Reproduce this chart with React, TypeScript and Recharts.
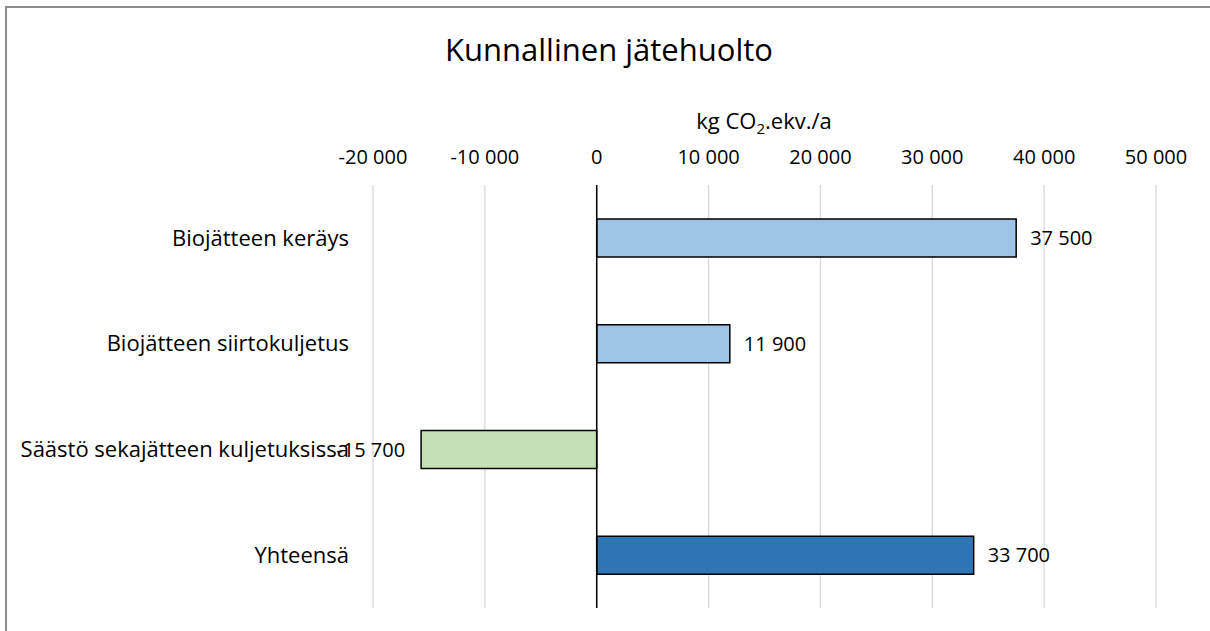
import { BarChart, Bar, XAxis, YAxis, CartesianGrid, Cell, LabelList, ReferenceLine } from "recharts";

const categories = [
  "Biojätteen keräys",
  "Biojätteen siirtokuljetus",
  "Säästö sekajätteen kuljetuksissa",
  "Yhteensä",
];
const values = [37500, 11900, -15700, 33700];
const barColors = ["#9DC3E6", "#9DC3E6", "#C5E0B4", "#2E75B6"];
const xTicks = [-20000, -10000, 0, 10000, 20000, 30000, 40000, 50000];

const FONT = "'Open Sans', Lato, sans-serif";

const data = categories.map((name, i) => ({ name, value: values[i] }));

// 12500 -> "12 500", -15700 -> "-15 700"
function fmt(v: number): string {
  const s = Math.abs(v).toString().replace(/\B(?=(\d{3})+(?!\d))/g, " ");
  return v < 0 ? "-" + s : s;
}

function TopTick(props: any) {
  const { x, payload } = props;
  return (
    <text x={x} y={164} textAnchor="middle" fill="#000" fontSize={20} fontFamily={FONT}>
      {fmt(payload.value)}
    </text>
  );
}

function ValueLabel(props: any) {
  const { x, y, width, height, value } = props;
  const cy = y + height / 2;
  if (value < 0) {
    const end = Math.min(x, x + width);
    return (
      <text x={end - 16} y={cy} dy="0.36em" textAnchor="end" fill="#000" fontSize={20} fontFamily={FONT}>
        {fmt(value)}
      </text>
    );
  }
  const end = Math.max(x, x + width);
  return (
    <text x={end + 14} y={cy} dy="0.36em" textAnchor="start" fill="#000" fontSize={20} fontFamily={FONT}>
      {fmt(value)}
    </text>
  );
}

export default function App() {
  return (
    <div style={{ position: "fixed", left: 0, top: 0, width: 1210, height: 631, background: "#fff", overflow: "hidden" }}>
      <div style={{ position: "absolute", left: 0, top: 0 }}>
        <BarChart
          width={1210}
          height={631}
          data={data}
          layout="vertical"
          margin={{ top: 155, right: 54, bottom: 23, left: 0 }}
          barSize={38}
          style={{ fontFamily: FONT }}
        >
          <CartesianGrid horizontal={false} stroke="#d9d9d9" strokeWidth={1.3} />
          <XAxis
            type="number"
            orientation="top"
            domain={[-20000, 50000]}
            ticks={xTicks}
            height={30}
            axisLine={false}
            tickLine={false}
            tick={<TopTick />}
            interval={0}
          />
          <YAxis
            type="category"
            dataKey="name"
            width={373}
            axisLine={false}
            tickLine={false}
            tickSize={0}
            tickMargin={24}
            tick={{ fill: "#000", fontSize: 22, fontFamily: FONT }}
            interval={0}
          />
          <ReferenceLine x={0} stroke="#000" strokeWidth={1.5} />
          <Bar dataKey="value" stroke="#000" strokeWidth={1.5} isAnimationActive={false}>
            {data.map((_, i) => (
              <Cell key={`c-${i}`} fill={barColors[i]} />
            ))}
            <LabelList dataKey="value" content={<ValueLabel />} />
          </Bar>
        </BarChart>
      </div>
      <svg width={1210} height={631} style={{ position: "absolute", left: 0, top: 0, pointerEvents: "none" }}>
        <path d="M6,631 V7 H1210" fill="none" stroke="#8c8c8c" strokeWidth={2} />
        <text x={609} y={61} textAnchor="middle" fill="#000" fontSize={31} fontFamily={FONT}>
          Kunnallinen jätehuolto
        </text>
        <text x={764} y={129} textAnchor="middle" fill="#000" fontSize={22} fontFamily={FONT}>
          kg CO
          <tspan fontSize={15} dy={5}>2</tspan>
          <tspan dy={-5}>.ekv./a</tspan>
        </text>
      </svg>
    </div>
  );
}
